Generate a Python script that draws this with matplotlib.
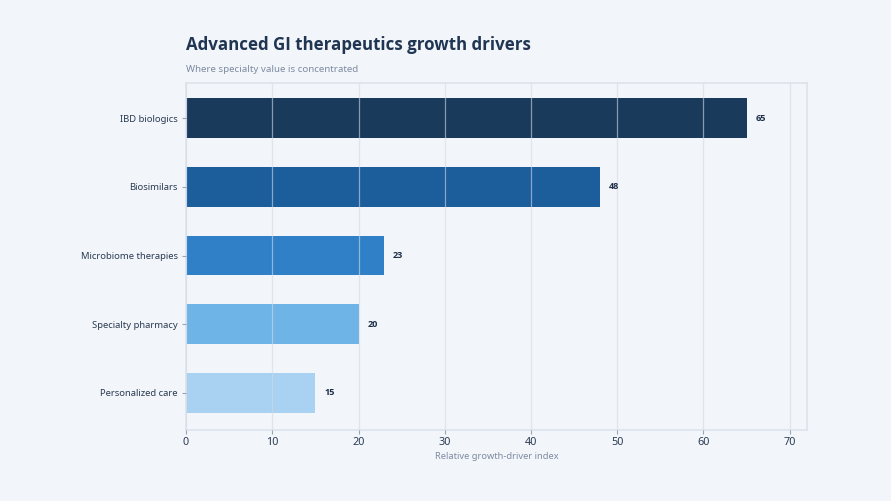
import matplotlib
matplotlib.use('Agg')
from matplotlib import pyplot as plt

# --
# data

categories = ['IBD biologics', 'Biosimilars', 'Microbiome therapies',
              'Specialty pharmacy', 'Personalized care']
values     = [65, 48, 23, 20, 15]
colors     = ['#1a3a5c', '#1c5d9c', '#2f80c6', '#6eb4e6', '#a9d1f1']
xticks     = [0, 10, 20, 30, 40, 50, 60, 70]

bg = '#f2f5fa'
bold_font = ['Open Sans', 'Noto Sans', 'DejaVu Sans']

plt.rcParams['font.family'] = ['Noto Sans', 'DejaVu Sans']

fig = plt.figure(figsize=(8.91, 5.01), dpi=100, facecolor=bg)
ax = fig.add_axes([0.2088, 0.1417, 0.6969, 0.6923], facecolor=bg)

ypos = list(range(len(categories)))
ax.barh(ypos, values, height=0.58, color=colors, zorder=2)

for y, v in zip(ypos, values):
  ax.text(v + 1.0, y, str(v), va='center', ha='left', fontsize=6.6,
          fontweight='bold', family=bold_font, color='#1c2e47', zorder=4)

ax.set_xlim(0, 72)
ax.set_ylim(len(categories) - 0.46, -0.51)
ax.set_yticks(ypos)
ax.set_yticklabels(categories, fontsize=6.8, color='#2a3b52')
ax.set_xticks(xticks)
ax.set_xticklabels([str(t) for t in xticks], fontsize=7.8, color='#2a3b52')

ax.grid(axis='x', color='#d3dbe6', linewidth=0.9, alpha=0.6, zorder=3)
ax.set_axisbelow(False)
ax.tick_params(axis='y', length=3, color='#9aa5b4', pad=3)
ax.tick_params(axis='x', length=3, color='#9aa5b4', pad=2)

for s in ax.spines.values():
  s.set_color('#dde3ec')
  s.set_linewidth(1.2)

ax.set_xlabel('Relative growth-driver index', fontsize=6.7, color='#7d8ca0', labelpad=3)

fig.text(0.2088, 0.910, 'Advanced GI therapeutics growth drivers', fontsize=12.2,
         fontweight='bold', family=bold_font, color='#1f3552', ha='left', va='center')
fig.text(0.2088, 0.861, 'Where specialty value is concentrated', fontsize=7,
         color='#7d8ca0', ha='left', va='center')

plt.savefig('out.png', dpi=100, facecolor=bg)
